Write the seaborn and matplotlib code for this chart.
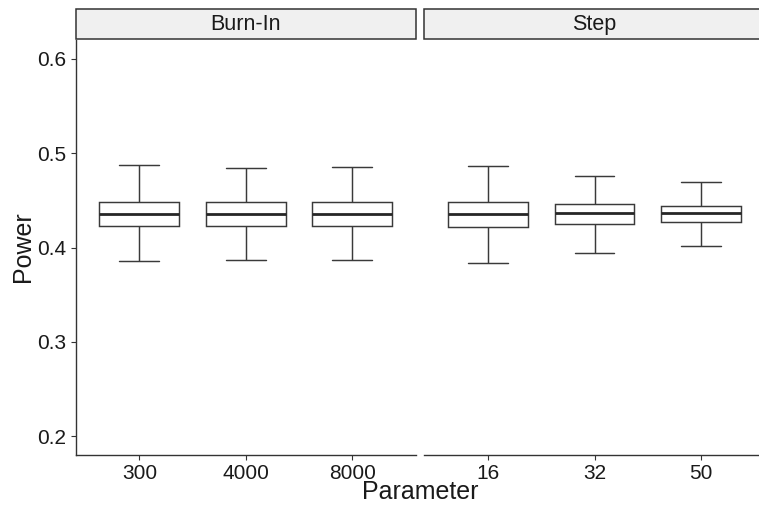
import matplotlib
matplotlib.use("Agg")
import matplotlib.pyplot as plt
import seaborn as sns
import pandas as pd
from matplotlib.patches import Rectangle

# five-number summaries (min, q1, median, q3, max)
burnin_params = ["300", "4000", "8000"]
burnin_min = [0.3853, 0.3863, 0.3863]
burnin_q1 = [0.4227, 0.4227, 0.4227]
burnin_med = [0.4358, 0.4350, 0.4354]
burnin_q3 = [0.4485, 0.4481, 0.4481]
burnin_max = [0.4870, 0.4841, 0.4849]

step_params = ["16", "32", "50"]
step_min = [0.3835, 0.3945, 0.4012]
step_q1 = [0.4216, 0.4252, 0.4269]
step_med = [0.4350, 0.4361, 0.4361]
step_q3 = [0.4480, 0.4464, 0.4443]
step_max = [0.4859, 0.4761, 0.4693]

y_ticks = [0.2, 0.3, 0.4, 0.5, 0.6]


def summary_frame(params, mins, q1s, meds, q3s, maxs):
    """
    Builds long data so that the quartiles match the summaries.
    """
    rows = []
    for p, a, b, c, d, e in zip(params, mins, q1s, meds, q3s, maxs):
        for v in (a, b, c, d, e):
            rows.append({"Parameter": p, "Power": v})
    return pd.DataFrame(rows)


burnin = summary_frame(burnin_params, burnin_min, burnin_q1, burnin_med, burnin_q3, burnin_max)
step = summary_frame(step_params, step_min, step_q1, step_med, step_q3, step_max)

sns.set_style("white")
plt.rcParams["font.family"] = ["Liberation Sans", "DejaVu Sans"]

W, H = 759, 505
fig = plt.figure(figsize=(W / 100, H / 100), dpi=100)
top, bottom = 40, 455
ax1 = fig.add_axes([75.5 / W, (H - bottom) / H, 340.5 / W, (bottom - top) / H])
ax2 = fig.add_axes([424 / W, (H - bottom) / H, 341 / W, (bottom - top) / H])

line_col = "#3a3a3a"
box_kws = dict(x="Parameter", y="Power", color="white", linecolor=line_col,
               linewidth=1.05, width=0.75, whis=(0, 100), fliersize=0,
               medianprops={"linewidth": 2.0, "color": "#262626"})

sns.boxplot(data=burnin, order=burnin_params, ax=ax1, **box_kws)
sns.boxplot(data=step, order=step_params, ax=ax2, **box_kws)

strip_h = 30.5 / (bottom - top)
for ax, title in [(ax1, "Burn-In"), (ax2, "Step")]:
    ax.set_ylim(0.18, 0.62)
    ax.set_xlim(-0.6, 2.6)
    ax.set_xlabel("")
    ax.set_ylabel("")
    for s in ["top", "right"]:
        ax.spines[s].set_visible(False)
    ax.spines["bottom"].set_color("#333333")
    ax.spines["bottom"].set_linewidth(1.0)
    ax.tick_params(axis="x", length=3.5, width=0.8, color="#333333",
                   labelsize=15, labelcolor="#1a1a1a", pad=3, bottom=True)
    # facet strip
    rect = Rectangle((0, 1.0 + 1 / (bottom - top)), 1, strip_h - 1 / (bottom - top),
                     transform=ax.transAxes, facecolor="#f0f0f0",
                     edgecolor="#333333", linewidth=1.1, clip_on=False)
    ax.add_patch(rect)
    ax.text(0.5, 1.0 + strip_h / 2, title, transform=ax.transAxes,
            ha="center", va="center", fontsize=15.5, color="#1a1a1a")

ax1.set_yticks(y_ticks)
ax1.set_yticklabels([f"{t:.1f}" for t in y_ticks])
ax1.spines["left"].set_color("#333333")
ax1.spines["left"].set_linewidth(1.0)
ax1.tick_params(axis="y", length=3.5, width=0.8, color="#333333",
                labelsize=15, labelcolor="#1a1a1a", pad=3, left=True)

ax2.spines["left"].set_visible(False)
ax2.set_yticks([])

fig.text(23 / W, 1 - 247 / H, "Power", rotation=90, ha="center", va="center",
         fontsize=18, color="#1a1a1a")
fig.text(420 / W, 1 - 492 / H, "Parameter", ha="center", va="center",
         fontsize=18, color="#1a1a1a")

fig.savefig("out.png", dpi=100)
